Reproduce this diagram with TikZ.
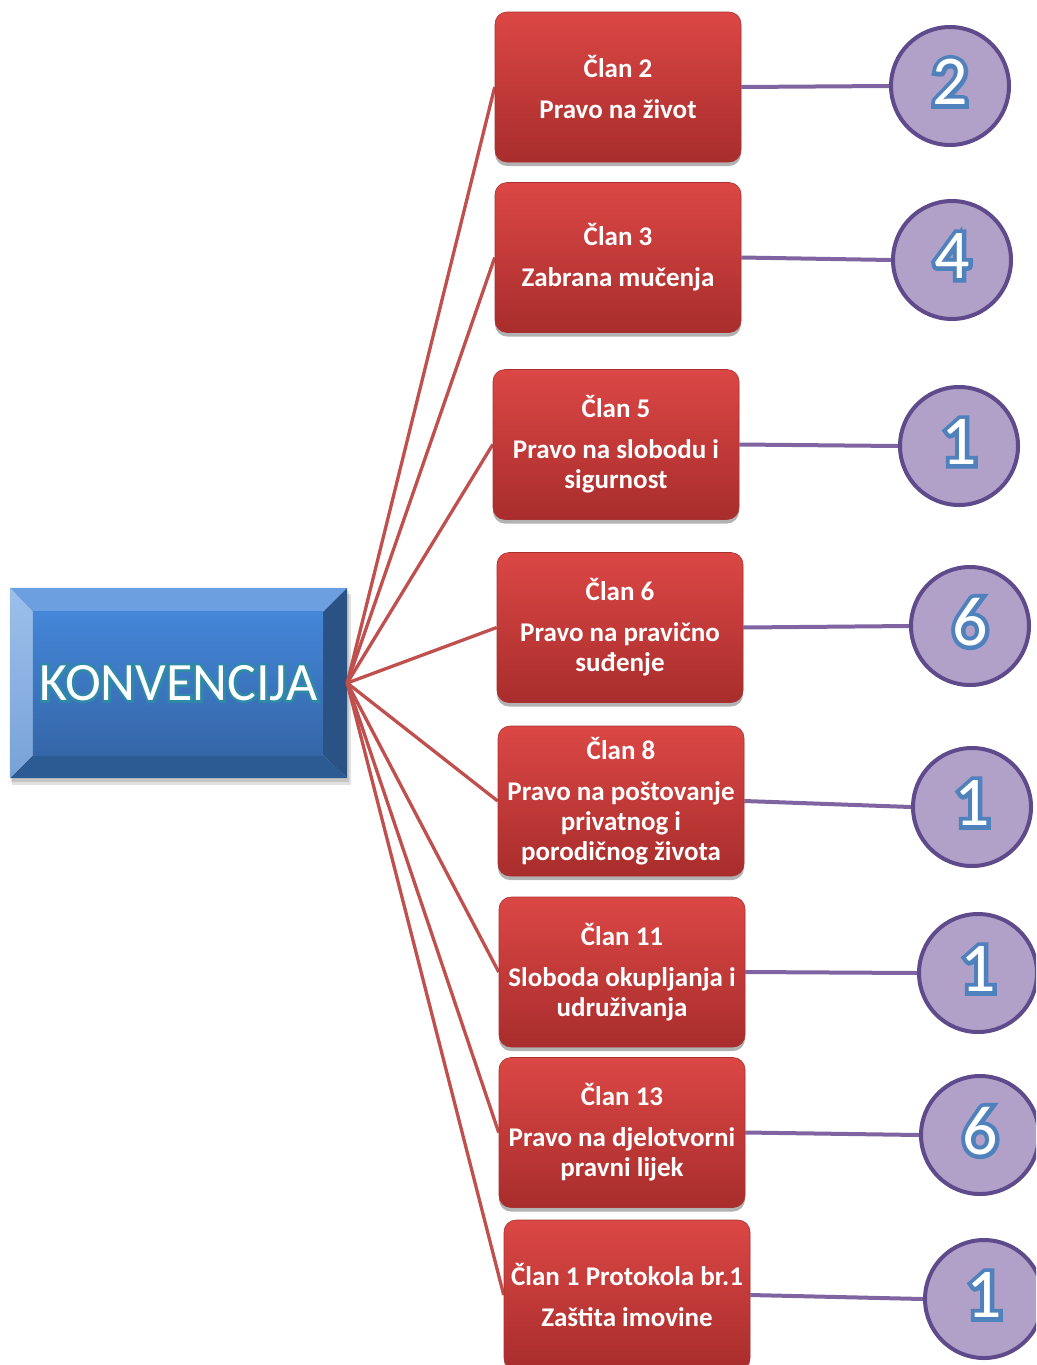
\documentclass[tikz,border=0pt]{standalone}
\usepackage{fontspec}
\setmainfont{Carlito}
\newfontfamily\glowdigit[FakeBold=12]{Carlito}
\newfontfamily\glowkonv[FakeBold=9]{Carlito}
\usetikzlibrary{shadows,calc}
\definecolor{boxtop}{HTML}{DB4745}
\definecolor{boxbot}{HTML}{A82D2C}
\definecolor{boxedge}{HTML}{A93130}
\definecolor{redln}{HTML}{C0504D}
\definecolor{purpln}{HTML}{8064A2}
\definecolor{circfill}{HTML}{B1A0C7}
\definecolor{circedge}{HTML}{5F4A8B}
\definecolor{digitblue}{HTML}{4F81BD}
\definecolor{konvglow}{HTML}{2E8AA6}
\definecolor{bvtop}{HTML}{6C9FE0}
\definecolor{bvleftA}{HTML}{9CC0EC}
\definecolor{bvleftB}{HTML}{78A2D6}
\definecolor{bvright}{HTML}{2A5285}
\definecolor{bvbot}{HTML}{2C5A92}
\definecolor{facetop}{HTML}{4486D8}
\definecolor{facebot}{HTML}{3466A8}
\pgfdeclarelayer{background}
\pgfsetlayers{background,main}
\begin{document}
\begin{tikzpicture}[x=1pt,y=-1pt,
  redbox/.style={rectangle, rounded corners=12pt, minimum width=246pt, minimum height=150pt,
    top color=boxtop, bottom color=boxbot, draw=boxedge, line width=0.6pt, text=white,
    font=\bfseries\fontsize{27}{30}\selectfont, align=center, inner sep=2pt,
    drop shadow={shadow xshift=0pt, shadow yshift=-4pt, opacity=0.3, fill=black}},
  numcirc/.style={circle, minimum size=118pt, inner sep=0pt, fill=circfill, draw=circedge, line width=4pt},
  redline/.style={draw=redln, line width=3.3pt},
  purpline/.style={draw=purpln, line width=4pt},
  digit/.style={font=\fontsize{70}{70}\selectfont, text=white, inner sep=0pt},
  digitglow/.style={font=\glowdigit\fontsize{70}{70}\selectfont, text=digitblue, inner sep=0pt},
  konvtext/.style={font=\fontsize{54}{54}\selectfont, text=white, inner sep=0pt},
  konvglowtext/.style={font=\glowkonv\fontsize{54}{54}\selectfont, text=konvglow, inner sep=0pt},
]
\useasboundingbox (0,0) rectangle (1036,1365);
\clip (0,0) rectangle (1036,1365);

% central blue box
\node[rectangle, minimum width=337pt, minimum height=190pt, inner sep=0pt] (konv) at (178.5,683) {};
\begin{pgfonlayer}{background}
  \path (konv.north west) coordinate (A) (konv.north east) coordinate (B)
        (konv.south east) coordinate (C) (konv.south west) coordinate (D);
  \path ($(A)+(23,24)$) coordinate (a) ($(B)+(-24,24)$) coordinate (b)
        ($(C)+(-24,-23)$) coordinate (c) ($(D)+(23,-23)$) coordinate (d);
  \fill[black,opacity=0.12] ($(A)+(2,6)$) rectangle ($(C)+(4,7)$);
  \fill[black,opacity=0.12] ($(A)+(1,3)$) rectangle ($(C)+(2,4)$);
  \fill[bvtop] (A) -- (B) -- (b) -- (a) -- cycle;
  \fill[bvright] (B) -- (C) -- (c) -- (b) -- cycle;
  \fill[bvbot] (C) -- (D) -- (d) -- (c) -- cycle;
  \shade[top color=bvleftA, bottom color=bvleftB] (D) -- (A) -- (a) -- (d) -- cycle;
  \shade[top color=facetop, bottom color=facebot] (a) -- (b) -- (c) -- (d) -- cycle;
\end{pgfonlayer}
\node[konvglowtext] at (konv.center) {KONVENCIJA};
\node[konvtext] (konvlabel) at (konv.center) {KONVENCIJA};

% article boxes
\node[redbox] (c1) at (618,87) {Član 2\\[11pt]Pravo na život};
\node[redbox] (c2) at (618,257.5) {Član 3\\[11pt]Zabrana mučenja};
\node[redbox] (c3) at (616,444.5) {Član 5\\[11pt]Pravo na slobodu i\\sigurnost};
\node[redbox] (c4) at (620,627.5) {Član 6\\[11pt]Pravo na pravično\\suđenje};
\node[redbox] (c5) at (621,801) {Član 8\\[11pt]Pravo na poštovanje\\privatnog i\\porodičnog života};
\node[redbox] (c6) at (622,972) {Član 11\\[11pt]Sloboda okupljanja i\\udruživanja};
\node[redbox] (c7) at (622,1132.5) {Član 13\\[11pt]Pravo na djelotvorni\\pravni lijek};
\node[redbox] (c8) at (627,1295) {Član 1 Protokola br.1\\[11pt]Zaštita imovine};

% number circles
\node[numcirc] (n1) at (950,86) {};
\node[numcirc] (n2) at (952,260) {};
\node[numcirc] (n3) at (959,446) {};
\node[numcirc] (n4) at (970,626) {};
\node[numcirc] (n5) at (972,807) {};
\node[numcirc] (n6) at (978,973) {};
\node[numcirc] (n7) at (980,1135) {};
\node[numcirc] (n8) at (984,1299) {};

\foreach \n/\d in {n1/2,n2/4,n3/1,n4/6,n5/1,n6/1,n7/6,n8/1} {
  \node[digitglow] at ($(\n.center)+(0,-4)$) {\d};
  \node[digit] at ($(\n.center)+(0,-4)$) {\d};
}

% connectors
\begin{pgfonlayer}{background}
  \foreach \k in {1,...,8} {
    \draw[redline] (konv.east) -- (c\k.west);
    \draw[purpline] (c\k.east) -- (n\k.west);
  }
\end{pgfonlayer}
\end{tikzpicture}
\end{document}
